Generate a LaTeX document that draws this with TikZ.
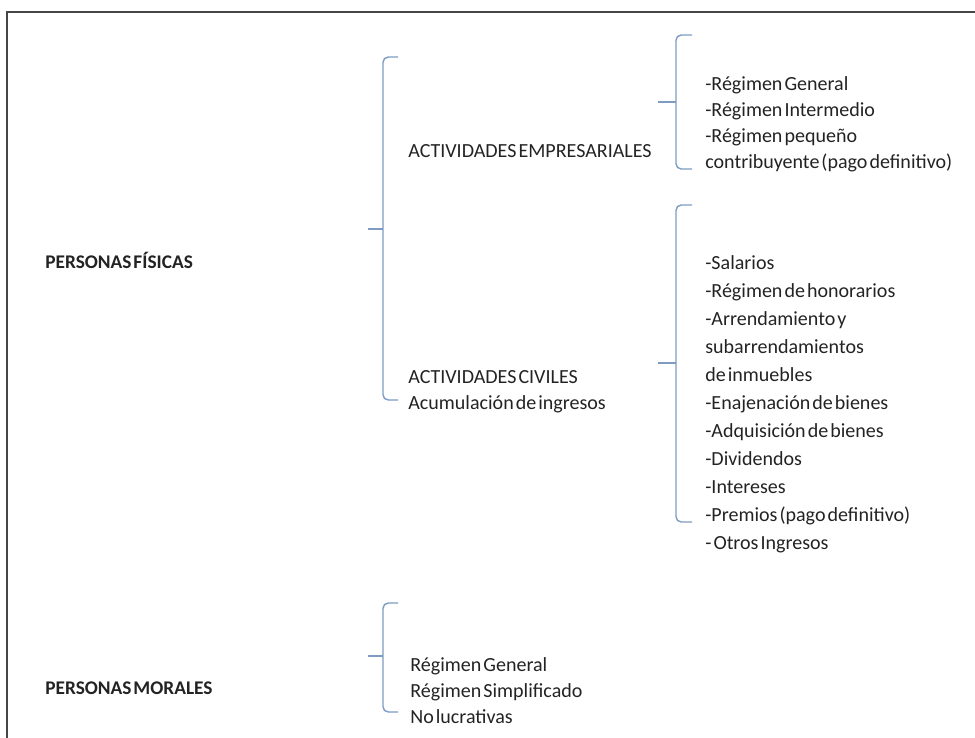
\documentclass[tikz,border=0pt]{standalone}
\usepackage{fontspec}
\setmainfont{Carlito}[WordSpace=0.45]
\definecolor{bracecol}{RGB}{125,155,195}
\definecolor{framecol}{RGB}{70,70,70}
\definecolor{textcol}{RGB}{35,35,35}
\tikzset{
  entrytext/.style={anchor=base west, inner sep=0pt, text=textcol, font=\fontsize{11.4}{13}\selectfont},
  headtext/.style={entrytext, font=\fontsize{11}{13}\selectfont\bfseries},
  bracket/.style={draw=bracecol, line width=0.8pt, rounded corners=3pt},
}
\begin{document}
\begin{tikzpicture}[x=0.02cm, y=-0.02cm]
    \useasboundingbox (0,0) rectangle (975,738);

    % Frame
    \draw[framecol, line width=1.1pt] (7,738) -- (7,12) -- (975,12);

    % Left column
    \node[headtext] (fisicas) at (45,268) {PERSONAS FÍSICAS};
    \node[headtext] (morales) at (45,694) {PERSONAS MORALES};

    % Brace of personas fisicas
    \draw[bracket] (398,57) -- (383,57) -- (383,400) -- (398,400);
    \draw[bracket] (368,229) -- (383,229);

    % Middle column
    \node[entrytext] (empresariales) at (408,157) {ACTIVIDADES EMPRESARIALES};
    \node[entrytext] (civiles) at (408,383) {ACTIVIDADES CIVILES};
    \node[entrytext] (acumulacion) at (408,409) {Acumulación de ingresos};

    % Brace of actividades empresariales
    \draw[bracket] (692,35) -- (676,35) -- (676,169) -- (692,169);
    \draw[bracket] (658,102) -- (676,102);

    \foreach \txt [count=\i] in {{-Régimen General}, {-Régimen Intermedio},
        {-Régimen pequeño}, {contribuyente (pago definitivo)}}
      \node[entrytext] (emp\i) at (705,{90+26*(\i-1)}) {\txt};

    % Brace of actividades civiles
    \draw[bracket] (692,205) -- (676,205) -- (676,522) -- (692,522);
    \draw[bracket] (658,363) -- (676,363);

    \foreach \txt [count=\i] in {{-Salarios}, {-Régimen de honorarios},
        {-Arrendamiento y}, {subarrendamientos}, {de inmuebles},
        {-Enajenación de bienes}, {-Adquisición de bienes}, {-Dividendos},
        {-Intereses}, {-Premios (pago definitivo)}, {- Otros Ingresos}}
      \node[entrytext] (civ\i) at (705,{269+28*(\i-1)}) {\txt};

    % Brace of personas morales
    \draw[bracket] (398,603) -- (383,603) -- (383,712) -- (398,712);
    \draw[bracket] (368,656) -- (383,656);

    \node[entrytext] (general) at (410,671) {Régimen General};
    \node[entrytext] (simplificado) at (410,697) {Régimen Simplificado};
    \node[entrytext] (lucrativas) at (410,723) {No lucrativas};
  \end{tikzpicture}
\end{document}
